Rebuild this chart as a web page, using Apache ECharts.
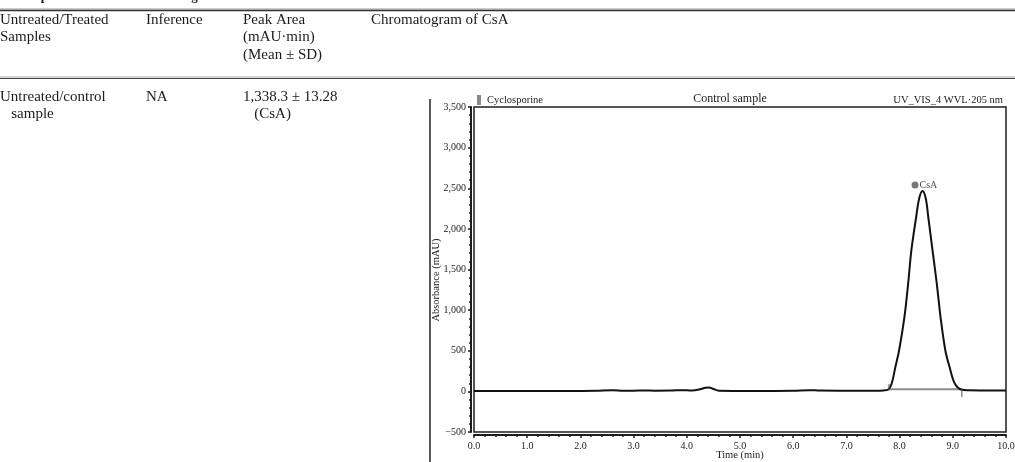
<!DOCTYPE html>
<html>
<head>
<meta charset="utf-8">
<script src="https://cdn.jsdelivr.net/npm/echarts@6/dist/echarts.min.js"></script>
<style>
  html, body { margin: 0; padding: 0; background: #fff; }
  #chart { width: 1015px; height: 462px; }
</style>
</head>
<body>
<div id="chart"></div>
<script>
// Chromatogram trace: [time (min), absorbance (mAU)]
const traceData = [
  [0.0, 4], [0.5, 4], [1.0, 5], [1.5, 5], [2.0, 6], [2.3, 8], [2.6, 14], [2.8, 9],
  [3.0, 8], [3.2, 12], [3.4, 9], [3.7, 10], [3.9, 15], [4.1, 10], [4.25, 25],
  [4.35, 45], [4.42, 48], [4.5, 30], [4.6, 8], [5.0, 6], [5.5, 6], [6.0, 8],
  [6.3, 15], [6.5, 10], [7.0, 8], [7.5, 9], [7.7, 12], [7.78, 20], [7.85, 94],
  [7.92, 298], [7.99, 503], [8.09, 912], [8.16, 1321], [8.22, 1730], [8.31, 2140],
  [8.37, 2380], [8.43, 2465], [8.49, 2380], [8.54, 2140], [8.62, 1730], [8.70, 1321],
  [8.77, 912], [8.86, 503], [8.94, 298], [9.04, 94], [9.17, 20], [9.3, 14],
  [9.6, 12], [10.0, 12]
];
// Integration baseline of the CsA peak and its start / end delimiters
const peakBaseline = [[7.8, 25], [9.17, 25]];
const peakStartTick = [[7.8, 10], [7.8, 90]];
const peakEndTick = [[9.17, 40], [9.17, -70]];
// Peak label marker
const peakMarker = [[8.29, 2540]];
const peakName = 'CsA';

// Axis settings
const timeTicks = { min: 0, max: 10, interval: 1 };
const absTicks = { min: -500, max: 3500, interval: 500 };

// Table contents
const headerCells = [
  { x: 0, lines: ['Untreated/Treated', 'Samples'] },
  { x: 146, lines: ['Inference'] },
  { x: 243, lines: ['Peak Area', '(mAU·min)', '(Mean ± SD)'] },
  { x: 371, lines: ['Chromatogram of CsA'] }
];
const rowCells = [
  { x: 0, lines: ['Untreated/control', '   sample'] },
  { x: 146, lines: ['NA'] },
  { x: 243, lines: ['1,338.3 ± 13.28', '   (CsA)'] }
];
const tableTitle = 'in Comparison with Untreated Singlet® Solution of CsA in Acetonitrile';
const panelLabels = ['Cyclosporine', 'Control sample', 'UV_VIS_4 WVL·205 nm'];
const yAxisTitle = 'Absorbance (mAU)';
const xAxisTitle = 'Time (min)';

const serif = '"Liberation Serif", "DejaVu Serif", serif';
const ink = '#1c1c1c';

function cellText(cells, y0, lineH) {
  const out = [];
  cells.forEach(c => {
    c.lines.forEach((t, i) => {
      out.push({
        type: 'text', x: c.x, y: y0 + i * lineH,
        style: { text: t, font: '15px ' + serif, fill: ink, verticalAlign: 'middle' }
      });
    });
  });
  return out;
}

const chart = echarts.init(document.getElementById('chart'), null, { renderer: 'canvas' });

const graphics = [].concat(
  [
    { type: 'text', x: 0, y: -3, style: { text: tableTitle, font: 'bold 13px ' + serif, fill: ink, verticalAlign: 'middle' } },
    { type: 'line', shape: { x1: 0, y1: 9, x2: 1015, y2: 9 }, style: { stroke: '#999', lineWidth: 1 } },
    { type: 'line', shape: { x1: 0, y1: 10.5, x2: 1015, y2: 10.5 }, style: { stroke: '#333', lineWidth: 1.5 } },
    { type: 'line', shape: { x1: 0, y1: 77, x2: 1015, y2: 77 }, style: { stroke: '#aaa', lineWidth: 1 } },
    { type: 'line', shape: { x1: 0, y1: 78.5, x2: 1015, y2: 78.5 }, style: { stroke: '#444', lineWidth: 1.2 } },
    // outer frame of the chromatogram panel
    { type: 'line', shape: { x1: 430, y1: 99, x2: 430, y2: 462 }, style: { stroke: '#222', lineWidth: 1.5 } },
    // sample flag next to the compound name
    { type: 'rect', shape: { x: 477, y: 95, width: 4, height: 10 }, style: { fill: '#888' } },
    { type: 'text', x: 487, y: 100, style: { text: panelLabels[0], font: '10.5px ' + serif, fill: ink, verticalAlign: 'middle' } },
    { type: 'text', x: 730, y: 99, style: { text: panelLabels[1], font: '12px ' + serif, fill: ink, align: 'center', verticalAlign: 'middle' } },
    { type: 'text', x: 1003, y: 100, style: { text: panelLabels[2], font: '10.5px ' + serif, fill: ink, align: 'right', verticalAlign: 'middle' } },
    { type: 'text', x: 436, y: 280, rotation: Math.PI / 2,
      style: { text: yAxisTitle, font: '10.5px ' + serif, fill: ink, align: 'center', verticalAlign: 'middle' } },
    { type: 'text', x: 740, y: 455.5,
      style: { text: xAxisTitle, font: '10.5px ' + serif, fill: ink, align: 'center', verticalAlign: 'middle' } }
  ],
  cellText(headerCells, 20, 17.5),
  cellText(rowCells, 97, 17)
);

const fmtAbs = v => (v < 0 ? '−' : '') + Math.abs(v).toLocaleString('en-US');

chart.setOption({
  animation: false,
  backgroundColor: '#fff',
  textStyle: { fontFamily: serif },
  grid: {
    left: 474, right: 9, top: 107, bottom: 30,
    outerBoundsMode: 'none', containLabel: false,
    show: true, borderColor: '#1e1e1e', borderWidth: 1.5, backgroundColor: 'transparent'
  },
  xAxis: {
    type: 'value', min: timeTicks.min, max: timeTicks.max, interval: timeTicks.interval,
    offset: 3,
    axisLine: { show: true, onZero: false, lineStyle: { color: '#1e1e1e', width: 2 } },
    axisTick: { show: true, length: 3, lineStyle: { color: '#1e1e1e', width: 1.5 } },
    minorTick: { show: true, splitNumber: 5, length: 2, lineStyle: { color: '#1e1e1e', width: 1.5 } },
    axisLabel: { fontFamily: serif, fontSize: 10, color: ink, margin: 6, formatter: v => v.toFixed(1) },
    splitLine: { show: false }
  },
  yAxis: {
    type: 'value', min: absTicks.min, max: absTicks.max, interval: absTicks.interval,
    offset: 3,
    axisLine: { show: true, onZero: false, lineStyle: { color: '#1e1e1e', width: 2 } },
    axisTick: { show: true, length: 3, lineStyle: { color: '#1e1e1e', width: 1.5 } },
    minorTick: { show: true, splitNumber: 5, length: 2, lineStyle: { color: '#1e1e1e', width: 1.5 } },
    axisLabel: { fontFamily: serif, fontSize: 10, color: ink, margin: 5, formatter: fmtAbs },
    splitLine: { show: false }
  },
  series: [
    {
      type: 'line', data: peakBaseline, symbol: 'none', silent: true,
      lineStyle: { color: '#8c8c8c', width: 2 }, z: 2
    },
    {
      type: 'line', data: traceData, symbol: 'none', smooth: 0.35, silent: true,
      lineStyle: { color: '#111', width: 2 }, z: 3
    },
    {
      type: 'line', data: peakStartTick, symbol: 'none', silent: true,
      lineStyle: { color: '#555', width: 1 }, z: 4
    },
    {
      type: 'line', data: peakEndTick, symbol: 'none', silent: true,
      lineStyle: { color: '#555', width: 1 }, z: 4
    },
    {
      type: 'scatter', data: peakMarker, symbol: 'circle', symbolSize: 7, silent: true,
      itemStyle: { color: '#555' }, z: 5,
      label: { show: true, position: 'right', distance: 1, formatter: peakName,
               fontFamily: serif, fontSize: 10, color: ink }
    }
  ],
  graphic: graphics
});
</script>
</body>
</html>
